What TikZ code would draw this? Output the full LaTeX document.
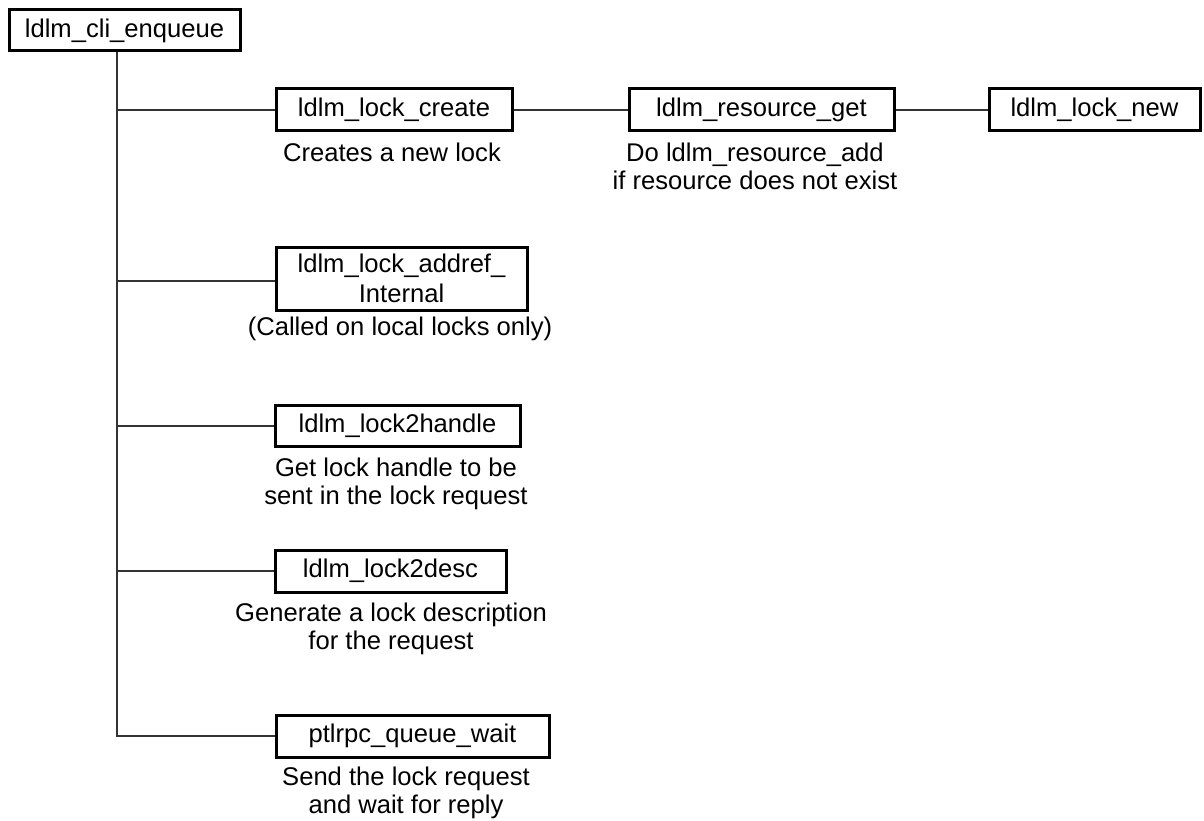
\documentclass[tikz,border=0pt]{standalone}
\usepackage{fontspec}
\setmainfont{Liberation Sans}
\begin{document}
\begin{tikzpicture}[x=1pt,y=-1pt,
  every node/.style={font=\fontsize{25.6}{28}\selectfont},
  fbox/.style={draw=black,line width=3pt,inner sep=0pt,align=center,fill=white},
  conn/.style={draw=black!80,line width=1.4pt},
  lbl/.style={inner sep=0pt,align=center}]
\useasboundingbox (0,0) rectangle (1204,821);
% boxes
\node[fbox,minimum width=231pt,minimum height=41pt] (cli) at (124.5,30.5) {ldlm\_cli\_enqueue};
\node[fbox,minimum width=236pt,minimum height=42pt] (create) at (394,110) {ldlm\_lock\_create};
\node[fbox,minimum width=265pt,minimum height=42pt] (resget) at (761.5,110) {ldlm\_resource\_get};
\node[fbox,minimum width=211pt,minimum height=42pt] (locknew) at (1094.5,110) {ldlm\_lock\_new};
\node[fbox,minimum width=251pt,minimum height=63pt,font=\fontsize{25.6}{30}\selectfont] (addref) at (401.5,278.5) {ldlm\_lock\_addref\_\\Internal};
\node[fbox,minimum width=245pt,minimum height=41pt] (handle) at (397.5,425.5) {ldlm\_lock2handle};
\node[fbox,minimum width=231pt,minimum height=42pt] (desc) at (390.5,571) {ldlm\_lock2desc};
\node[fbox,minimum width=273pt,minimum height=42pt] (ptlrpc) at (412.5,736) {ptlrpc\_queue\_wait};
% labels
\node[lbl] (l1) at (392,152) {Creates a new lock};
\node[lbl] (l2) at (755,166) {Do ldlm\_resource\_add\\if resource does not exist};
\node[lbl] (l3) at (400,329) {(Called on local locks only)};
\node[lbl] (l4) at (396,484) {Get lock handle to be\\sent in the lock request};
\node[lbl] (l5) at (391,629) {Generate a lock description\\for the request};
\node[lbl] (l6) at (406,793) {Send the lock request\\and wait for reply};
% trunk coordinates
\coordinate (tk) at (117,0);
\coordinate (t1) at (117,110);
\coordinate (t2) at (117,281);
\coordinate (t3) at (117,426);
\coordinate (t4) at (117,571);
% connectors
\draw[conn] (cli.south -| tk) |- (ptlrpc.west);
\draw[conn] (t1) -- (create.west);
\draw[conn] (t2) -- (t2 -| addref.west);
\draw[conn] (t3) -- (t3 -| handle.west);
\draw[conn] (t4) -- (desc.west);
\draw[conn] (create.east) -- (resget.west);
\draw[conn] (resget.east) -- (locknew.west);
\end{tikzpicture}
\end{document}
